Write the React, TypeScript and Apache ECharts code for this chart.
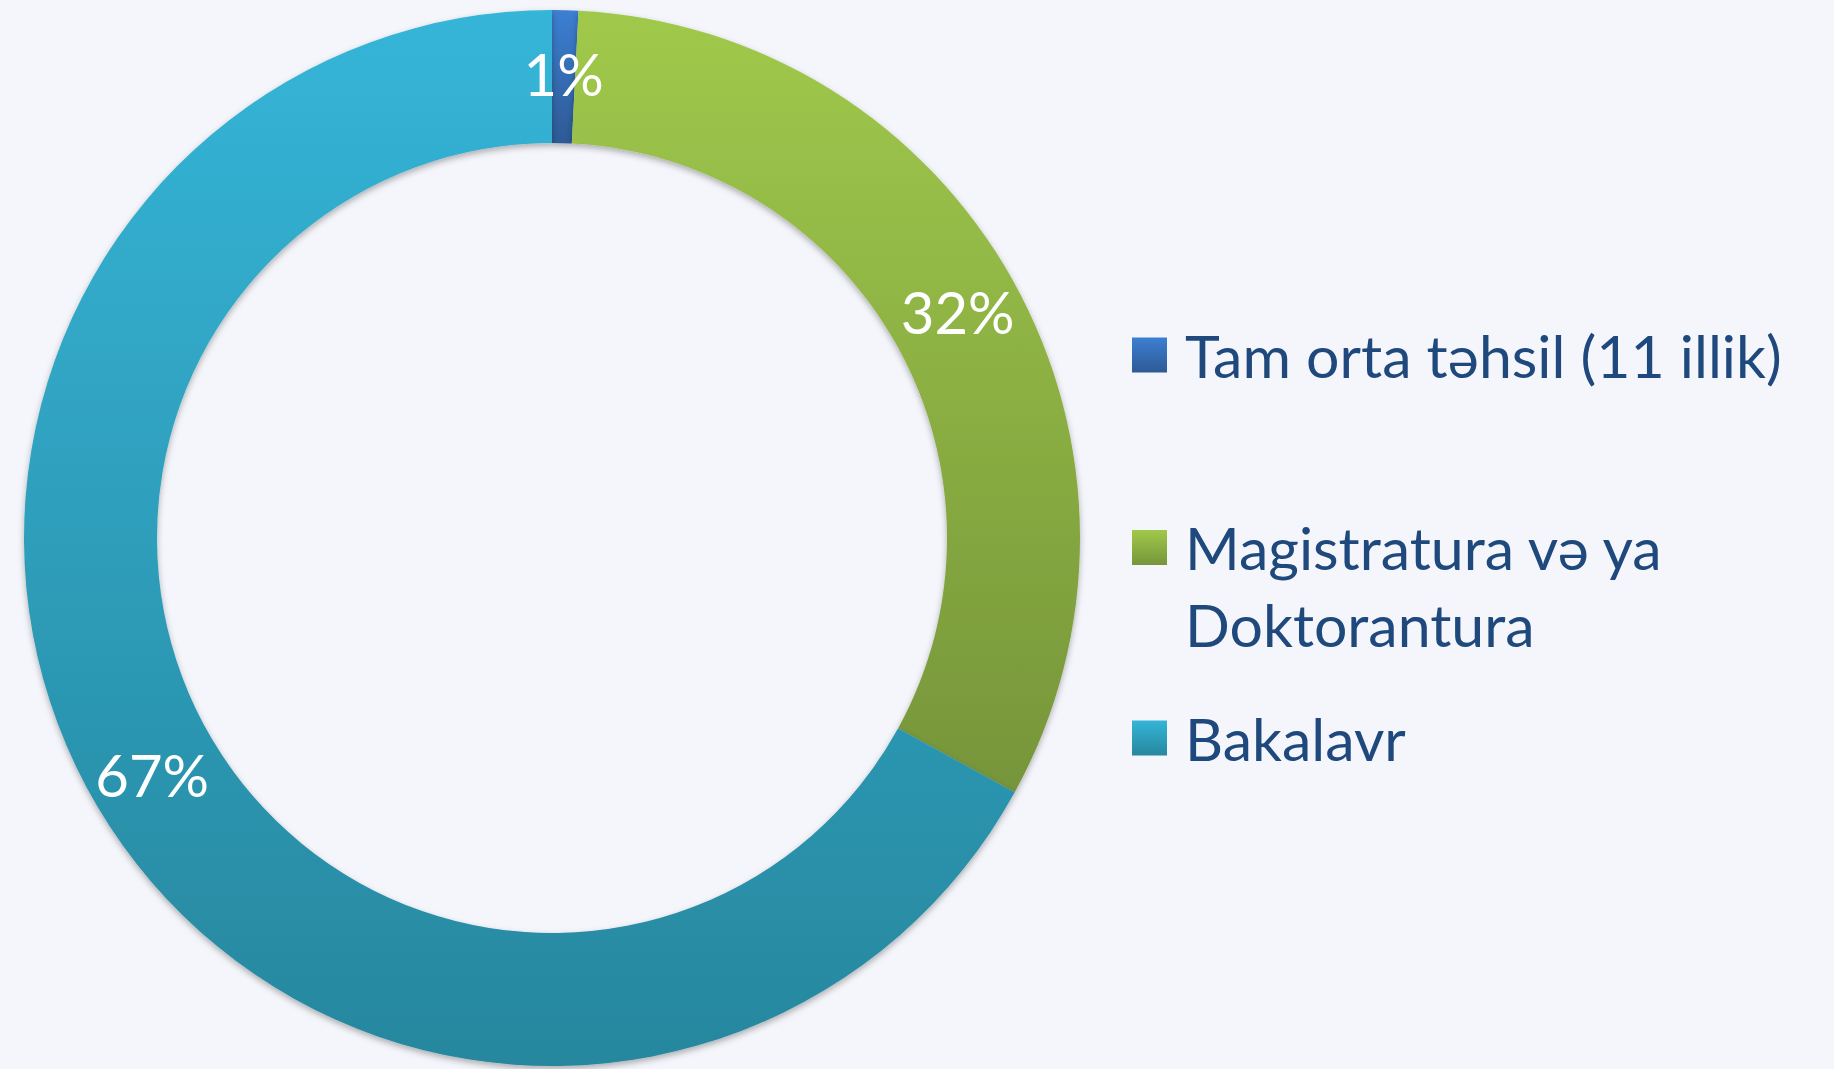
import React, { useEffect, useRef } from "react";
import * as echarts from "echarts";

const categories = ["Tam orta təhsil (11 illik)", "Magistratura və ya Doktorantura", "Bakalavr"];
const values = [0.8, 32.2, 67];
const topColors = ["#3c7fd2", "#a0c94b", "#35b5d8"];
const bottomColors = ["#2d5a95", "#76953a", "#27879e"];
const legendTops = [322, 432, 705];

const FONT = "Lato";

function grad(i: number) {
  return new echarts.graphic.LinearGradient(0, 0, 0, 1, [
    { offset: 0, color: topColors[i] },
    { offset: 1, color: bottomColors[i] },
  ]);
}

export default function App() {
  const ref = useRef<HTMLDivElement>(null);
  useEffect(() => {
    document.body.style.margin = "0";
    const chart = echarts.init(ref.current!, null, { renderer: "svg" });
    const legends = categories.map((name, i) => {
      const twoLine = i === 1;
      return {
        left: 1132,
        top: legendTops[i],
        orient: "vertical",
        padding: 0,
        itemWidth: 35,
        itemHeight: 35,
        selectedMode: false,
        icon: "rect",
        data: [{ name, itemStyle: { color: grad(i) } }],
        formatter: (n: string) => (n === categories[1] ? " \nMagistratura və ya\nDoktorantura" : n),
        textStyle: {
          fontFamily: FONT,
          fontSize: 59,
          color: "#1f497d",
          lineHeight: twoLine ? 77 : 66,
          padding: [0, 0, 0, 13],
        },
      };
    });
    chart.setOption({
      animation: false,
      backgroundColor: "#f4f6fb",
      legend: legends,
      series: [
        {
          type: "pie",
          center: [552, 538],
          radius: [395, 528],
          startAngle: 90,
          clockwise: true,
          avoidLabelOverlap: false,
          label: {
            show: true,
            position: "inside",
            color: "#ffffff",
            fontFamily: FONT,
            fontSize: 58,
            formatter: (p: any) => Math.round(p.percent) + "%",
          },
          labelLine: { show: false },
          itemStyle: {
            borderWidth: 0,
            shadowBlur: 6,
            shadowColor: "rgba(0,0,0,0.3)",
            shadowOffsetY: 3,
          },
          emphasis: { disabled: true },
          data: categories.map((name, i) => ({
            name,
            value: values[i],
            itemStyle: { color: grad(i) },
          })),
        },
      ],
    });
    return () => chart.dispose();
  }, []);
  return <div ref={ref} style={{ width: 1834, height: 1069 }} />;
}
